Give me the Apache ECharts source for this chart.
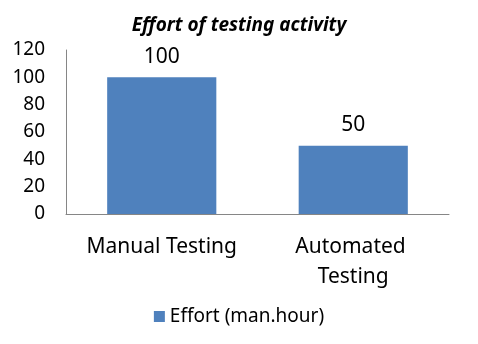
<!DOCTYPE html>
<html><head><meta charset="utf-8">
<script src="https://cdn.jsdelivr.net/npm/echarts@6/dist/echarts.min.js"></script>
<style>html,body{margin:0;padding:0;background:#fff}#c{width:478px;height:344px}</style>
</head><body><div id="c"></div>
<script>
const categories = ['Manual Testing', 'Automated Testing'];
const effort = [100, 50];
const seriesName = 'Effort (man.hour)';
const titleText = 'Effort of testing activity';
const F = '"Noto Sans", sans-serif';
const chart = echarts.init(document.getElementById('c'), null, {renderer: 'canvas'});
chart.setOption({
  animation: false,
  title: {text: titleText, left: 'center', top: 11, textStyle: {fontFamily: F, fontSize: 19, fontWeight: 'bold', fontStyle: 'italic', color: '#000'}},
  grid: {left: 66, right: 29, top: 50, bottom: 130},
  legend: {bottom: 13, left: 'center', itemWidth: 11, itemHeight: 11, itemGap: 6, icon: 'rect', textStyle: {fontFamily: F, fontSize: 19, color: '#000'}, data: [seriesName]},
  xAxis: {type: 'category', data: categories,
    axisLine: {lineStyle: {color: '#868686', width: 1}}, axisTick: {show: false},
    axisLabel: {fontFamily: F, fontSize: 21, color: '#000', margin: 18, lineHeight: 30, width: 165, overflow: 'break', interval: 0}},
  yAxis: {type: 'value', min: 0, max: 120, interval: 20,
    axisLine: {show: true, lineStyle: {color: '#868686', width: 1}}, axisTick: {show: false}, splitLine: {show: false},
    axisLabel: {fontFamily: F, fontSize: 19, color: '#000', margin: 21}},
  series: [{name: seriesName, type: 'bar', data: effort, barWidth: '57%',
    itemStyle: {color: '#4f81bd'},
    label: {show: true, position: 'top', distance: 10, fontFamily: F, fontSize: 21, color: '#000'}}]
});
</script></body></html>
